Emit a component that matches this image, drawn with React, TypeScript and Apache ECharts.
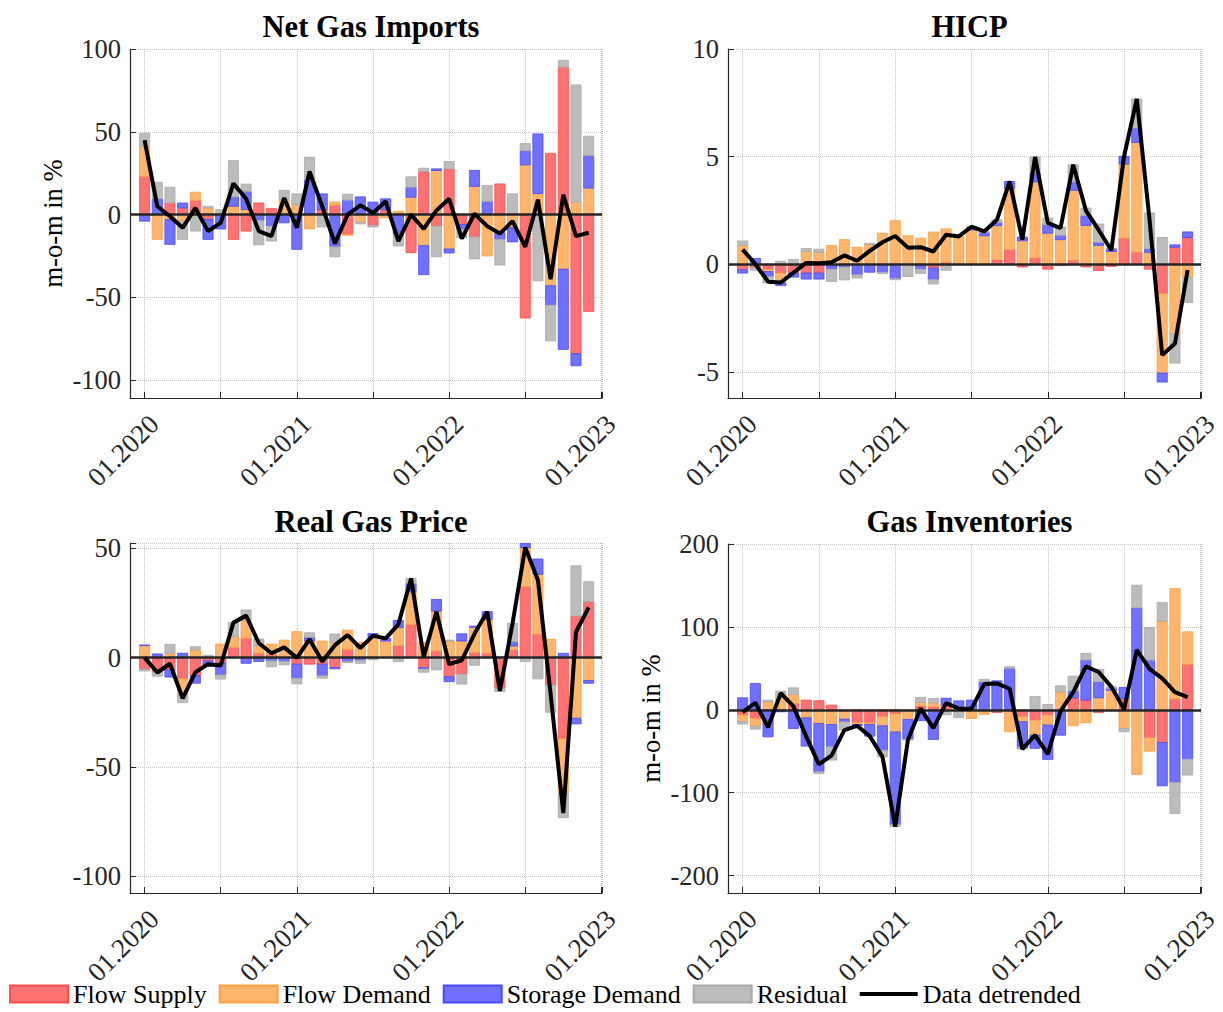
import { useEffect, useRef } from 'react';
import * as echarts from 'echarts';

const FONT = 'Liberation Serif';

// month index 0 = 01.2020 ... 35 = 12.2022
const monthLabels = [
  '01.2020', '02.2020', '03.2020', '04.2020', '05.2020', '06.2020', '07.2020', '08.2020', '09.2020', '10.2020', '11.2020', '12.2020',
  '01.2021', '02.2021', '03.2021', '04.2021', '05.2021', '06.2021', '07.2021', '08.2021', '09.2021', '10.2021', '11.2021', '12.2021',
  '01.2022', '02.2022', '03.2022', '04.2022', '05.2022', '06.2022', '07.2022', '08.2022', '09.2022', '10.2022', '11.2022', '12.2022',
];
const yearTickLabels = ['01.2020', '01.2021', '01.2022', '01.2023'];

const componentNames = ['Flow Supply', 'Flow Demand', 'Storage Demand', 'Residual'];
const lineName = 'Data detrended';

// Net Gas Imports
const ngiSupply = [23, 0, 7, 4, 8.5, -3, 0, -15, -10, 7, 3.6, 0, 0, 0, 3, 5.6, -12, 0, -6.5, 3, 0, -23, 26, -7, 27.6, -6, -13.5, 0, 18.5, 0, -62.5, 0, 37, 89, -84, -58.5];
const ngiDemand = [18, -15, -3, -4, 5, 4, 0, 5, 3, 0, 0, 9, 6, -8.7, 0, 2, -0.5, -4.6, 0, -2, 2, 10.5, -18.8, 26.6, -20.8, 0, 17, -25, -11, -8, 30, 12.7, -43, -33, 7.5, 16];
const ngiStorage = [-4, 9.5, -15, 3, 0, -12, -8.7, 5.6, 11, -3.6, -7, -5, -21, 21, 9.5, -19.5, 8.7, 10.7, 7.5, 6.5, -12, 6, -17.5, 1, -2.4, -3, 9.7, 8, -4, -8.5, 8.5, 36, -11.7, -48.4, -7.3, 19.6];
const ngiResidual = [8, 10, 9.5, -11, -10, 1, 3, 22, 4.4, -14.7, -9, 5.6, 6.5, 13.7, -7.5, -6, 3.6, -1, -1, 0, -7, 6.3, 2, -18.5, 4.4, -5, -13.3, 9.5, -15.5, 12.5, 4.4, -40, -21.6, 4.2, 70.8, 11.7];
const ngiData = [45, 5, -1, -8, 4, -10, -5, 18.8, 9.5, -10, -13, 10, -8, 26, 5, -17.5, 0, 5.6, 1, 8, -16, 0, -8.7, 2.5, 9.5, -14.5, 0.5, -7, -11.5, -4, -19.5, 9, -39, 12, -13, -11];

// HICP
const hicpSupply = [-0.25, -0.15, -0.25, -0.4, -0.4, -0.4, -0.4, 0, 0, 0, 0, 0, 0, 0, 0, -0.17, 0.1, 0, 0, 0, 0.22, 0.68, -0.12, 0.3, -0.22, -0.05, 0.19, -0.12, -0.28, -0.09, 1.22, 0.57, -0.22, -1.36, 0.8, 1.25];
const hicpDemand = [0.87, 0, -0.08, -0.46, 0, 0.6, 0.56, 0.88, 1.15, 0.8, 0.93, 1.45, 2.03, 1.33, 1.22, 1.5, 1.55, 1.3, 1.6, 1.33, 1.58, 2.83, 1.1, 3.53, 1.45, 1.15, 3.25, 1.81, 0.88, 0.6, 3.44, 5.09, 0.56, -3.68, -3.22, -0.59];
const hicpStorage = [-0.15, 0.28, -0.23, -0.12, -0.19, -0.28, -0.28, -0.22, -0.12, -0.48, -0.36, -0.36, -0.66, 0, -0.22, -0.54, 0, 0, 0.1, 0.15, 0.15, 0.34, 0.17, 0.42, 0.39, 0.2, 0.39, 0.45, 0.15, 0.12, 0.36, 0.67, 0.17, -0.42, 0.11, 0.26];
const hicpResidual = [0.22, -0.12, -0.3, 0.15, 0.23, 0.14, 0.15, -0.57, -0.6, -0.15, 0.05, -0.07, -0.05, -0.56, -0.2, -0.2, -0.27, 0, 0.05, 0.05, 0.12, 0, 0, 0.74, 0.31, 0.39, 0.8, 0.36, 0.85, 0.03, 0, 1.35, 1.66, 1.25, -1.36, -1.18];
const hicpData = [0.69, 0.02, -0.8, -0.84, -0.38, 0.07, 0.05, 0.1, 0.42, 0.17, 0.63, 1.03, 1.32, 0.78, 0.8, 0.6, 1.38, 1.3, 1.75, 1.53, 2.07, 3.85, 1.15, 4.99, 1.93, 1.69, 4.63, 2.5, 1.6, 0.66, 5.02, 7.68, 2.1, -4.21, -3.67, -0.26];

// Real Gas Price
const rgpSupply = [-5.3, -6.5, -5.6, -9.7, -8.2, -1.5, -2.5, 4.6, 8.8, 2, 1.5, 0, -3, -3, -3, -4.6, 3.8, 0, 0, 0, 5.5, 15.2, -4.6, 3, -8.7, -7.5, 2.4, 2, -14, 3.5, 32.4, 10.7, -12.5, -37.1, 19, 25.6];
const rgpDemand = [5.5, 0, 2, -7.3, 3.5, 0, 6.2, 5, 8.4, 3.3, 4.7, 8, 11.9, 7.6, 7.6, 7, 8.8, 7, 9.5, 7.6, 8.2, 14.9, 7, 18.3, 7.6, 7.6, 11.5, 15.5, 0, 1.8, 17.8, 27.4, 8.4, -24.4, -27.7, -10.5];
const rgpStorage = [0.3, 1.7, -3.3, 2, -3.5, -2.5, -5.4, 0, -2.6, -1.8, -1.5, -1.8, -6.4, 1.7, -5.3, -0.5, -1.8, -1.2, 1.5, 1.2, 3.3, 3.8, -0.6, 5.3, -2.3, 3.3, 0.5, 3.5, 0.3, 2, 2, 7, 0, 2, -2.6, -1.2];
const rgpResidual = [-0.8, -2, 4.1, -3.6, 1.5, 1, -1.9, 6.4, 4.6, 3.2, -2.7, -1.5, -2.6, 2.1, -1.1, 3.8, -0.5, -1.4, -1, 0, -1.8, 2.3, -1.5, -5.6, 0.4, -4.6, -3.5, 0, -1.5, 8.4, -1.8, -9.7, -12.5, -11.6, 23, 9.1];
const rgpData = [0, -6.8, -2.8, -18.6, -6.7, -3, -3.6, 16, 19.2, 6.7, 2, 4.7, -0.1, 8.4, -1.8, 5.7, 10.3, 4.4, 10, 8.8, 15.2, 36.2, 0.3, 21, -3, -1.2, 10.9, 21, -15.2, 15.7, 50.4, 35.4, -16.6, -71.1, 11.7, 23];

// Gas Inventories
const invSupply = [-6.4, -10.5, 0, 0, 7.6, 11.7, 10.9, 5.6, 0, -15.3, -15.7, -8.4, -5, 0, 4.8, 3.6, 6, 3.6, 0, 0, -3.2, 0, -8.4, -12.5, -6.4, 0, 14.5, 11.7, -3.2, 0, 13.7, 0, -33.8, -39.4, 12.9, 54.7];
const invDemand = [-8, -9.2, 9.6, 13.7, 10.9, -9.6, -16.5, -17.7, -11.3, -2.4, -2, -10.9, -21.7, -11.7, 4, 4.8, 0, -2.4, -10.5, -5.6, 0, -26.5, -6, -18, -12, 21.7, -19.3, -15.7, 14.5, 23.7, -22.5, -78, -16.1, 107, 133.5, 39.4];
const invStorage = [14.5, 31.8, -32.6, -2.4, -22.5, -34.2, -58.3, -27, -3.2, -1.6, -14.1, -29.4, -111.8, -23.7, -13, -35.8, 8, 7.2, 11.7, 33.8, 35, 49.9, -31.4, -16, -41.4, -30.6, 8.4, 48.3, 19.3, 2, 13.3, 123, 59.9, -52.3, -87.7, -59.5];
const invResidual = [-2.8, -3.6, 2, 8.8, 8, 0, -2, -16, -10, 0, 0, -8, -2.5, -1, 6, 5.2, -6, -7, 0, 2.8, 0, 2, -1.6, 16, 6.4, 7.2, 17.7, 8, 15, 2, -4, 27.3, 39.4, 22.5, -37.4, -19.3];
const invData = [-2.7, 8.5, -21, 20.1, 4, -32.1, -65.9, -55.1, -24.5, -19.3, -31.8, -56.7, -141, -36.4, 1.8, -22.2, 8, 1.4, 1.2, 31, 31.8, 25.4, -47.4, -30.5, -53.4, -1.7, 21.3, 52.3, 45.6, 27.7, 0.5, 72.3, 49.4, 37.8, 21.3, 15.3];

const fills = ['#ff7272', '#ffb56c', '#7171ff', '#bcbcbc'];
const edges = ['#ff4d4d', '#ffa043', '#4a4aff', '#a9a9a9'];

const panels = [
  { title: 'Net Gas Imports', parts: [ngiSupply, ngiDemand, ngiStorage, ngiResidual], data: ngiData, min: -110.8, max: 100, step: 50, yName: 'm-o-m in %', left: 130, top: 49, width: 472, height: 349, titleTop: 6 },
  { title: 'HICP', parts: [hicpSupply, hicpDemand, hicpStorage, hicpResidual], data: hicpData, min: -6.2, max: 10, step: 5, yName: '', left: 728, top: 49, width: 473, height: 349, titleTop: 6 },
  { title: 'Real Gas Price', parts: [rgpSupply, rgpDemand, rgpStorage, rgpResidual], data: rgpData, min: -107.6, max: 52.4, step: 50, yName: '', left: 130, top: 543, width: 472, height: 350, titleTop: 501 },
  { title: 'Gas Inventories', parts: [invSupply, invDemand, invStorage, invResidual], data: invData, min: -221, max: 200, step: 100, yName: 'm-o-m in %', left: 728, top: 544, width: 473, height: 349, titleTop: 501 },
];

const isMultiple = (v: number, step: number) => Math.abs(v / step - Math.round(v / step)) < 1e-6;

// stacked segments [month, from, to], positives and negatives stacked separately
function stackSegments(parts: number[][]) {
  const pos = parts[0].map(() => 0);
  const neg = parts[0].map(() => 0);
  return parts.map((vals) =>
    vals.map((v, i) => {
      if (v >= 0) {
        const seg = [i, pos[i], pos[i] + v];
        pos[i] += v;
        return seg;
      }
      const seg = [i, neg[i], neg[i] + v];
      neg[i] += v;
      return seg;
    }),
  );
}

export default function App() {
  const ref = useRef<HTMLDivElement>(null);

  useEffect(() => {
    if (!ref.current) {
      return undefined;
    }
    const chart = echarts.init(ref.current, undefined, { renderer: 'svg' });

    const series: any[] = [];
    panels.forEach((p, k) => {
      const segs = stackSegments(p.parts);
      segs.forEach((segData, j) => {
        series.push({
          type: 'custom',
          name: componentNames[j],
          xAxisIndex: k,
          yAxisIndex: k,
          data: segData,
          encode: { x: 0, y: [1, 2] },
          itemStyle: { color: fills[j], borderColor: edges[j], borderWidth: 1 },
          silent: true,
          renderItem: (_params: any, api: any) => {
            const lo = api.value(1);
            const hi = api.value(2);
            if (lo === hi) return null;
            const a = api.coord([api.value(0), lo]);
            const b = api.coord([api.value(0), hi]);
            const w = api.size([0.8, 0])[0];
            return {
              type: 'rect',
              shape: { x: a[0] - w / 2, y: Math.min(a[1], b[1]), width: w, height: Math.abs(a[1] - b[1]) },
              style: { fill: fills[j], stroke: edges[j], lineWidth: 0.8 },
            };
          },
        });
      });
      series.push({
        type: 'line',
        name: lineName,
        xAxisIndex: k,
        yAxisIndex: k,
        data: p.data.map((v, i) => [i, v]),
        symbol: 'none',
        z: 10,
        lineStyle: { color: '#000', width: 4 },
        itemStyle: { color: '#000' },
        emphasis: { disabled: true },
        markLine: {
          silent: true,
          symbol: 'none',
          z: 4,
          label: { show: false },
          lineStyle: { color: '#262626', width: 2.5, type: 'solid' },
          data: [{ yAxis: 0 }],
        },
      });
    });

    const option: echarts.EChartsOption = {
      animation: false,
      backgroundColor: '#fff',
      textStyle: { fontFamily: FONT },
      title: panels.map((p) => ({
        text: p.title,
        left: p.left + p.width / 2,
        top: p.titleTop,
        textAlign: 'center',
        textStyle: { fontSize: 30.5, fontWeight: 'bold', color: '#000', fontFamily: FONT },
      })),
      legend: {
        data: [
          ...componentNames.map((name) => ({ name, icon: 'rect' })),
          { name: lineName, icon: 'path://M0,0 L58,0 L58,4 L0,4 Z' },
        ],
        left: 4,
        top: 976,
        itemWidth: 58,
        itemHeight: 17,
        itemGap: 12,
        selectedMode: false,
        textStyle: { fontSize: 26, color: '#000', fontFamily: FONT },
      },
      grid: panels.map((p) => ({ left: p.left, top: p.top, width: p.width, height: p.height })),
      xAxis: panels.map((p, k) => ({
        type: 'value',
        gridIndex: k,
        min: -1.15,
        max: 36.05,
        minInterval: 6,
        maxInterval: 6,
        axisLine: { onZero: false, lineStyle: { color: '#262626', width: 1.2 } },
        axisTick: { inside: true, length: 6, lineStyle: { color: '#262626' } },
        axisLabel: {
          rotate: 45,
          margin: 12,
          verticalAlign: 'top',
          fontSize: 27,
          color: '#262626',
          fontFamily: FONT,
          formatter: (v: number) => (v >= 0 && isMultiple(v, 12) ? yearTickLabels[Math.round(v / 12)] ?? monthLabels[0] : ''),
        },
        splitLine: { show: true, lineStyle: { type: 'dotted', color: '#c6c6c6', width: 1 } },
      })),
      yAxis: panels.map((p, k) => ({
        type: 'value',
        gridIndex: k,
        min: p.min,
        max: p.max,
        minInterval: p.step,
        maxInterval: p.step,
        name: p.yName,
        nameLocation: 'middle',
        nameRotate: 90,
        nameGap: 64,
        nameTextStyle: { fontSize: 26.5, color: '#000', fontFamily: FONT },
        axisLine: { show: true, onZero: false, lineStyle: { color: '#262626', width: 1.2 } },
        axisTick: { show: true, inside: true, length: 6, lineStyle: { color: '#262626' } },
        axisLabel: {
          margin: 9,
          fontSize: 26.5,
          color: '#262626',
          fontFamily: FONT,
          formatter: (v: number) => (isMultiple(v, p.step) ? String(Math.round(v)) : ''),
        },
        splitLine: { show: true, lineStyle: { type: 'dotted', color: '#c6c6c6', width: 1 } },
      })),
      series,
    };

    chart.setOption(option);
    return () => {
      chart.dispose();
    };
  }, []);

  return <div ref={ref} style={{ position: 'absolute', left: 0, top: 0, width: 1223, height: 1012 }} />;
}
